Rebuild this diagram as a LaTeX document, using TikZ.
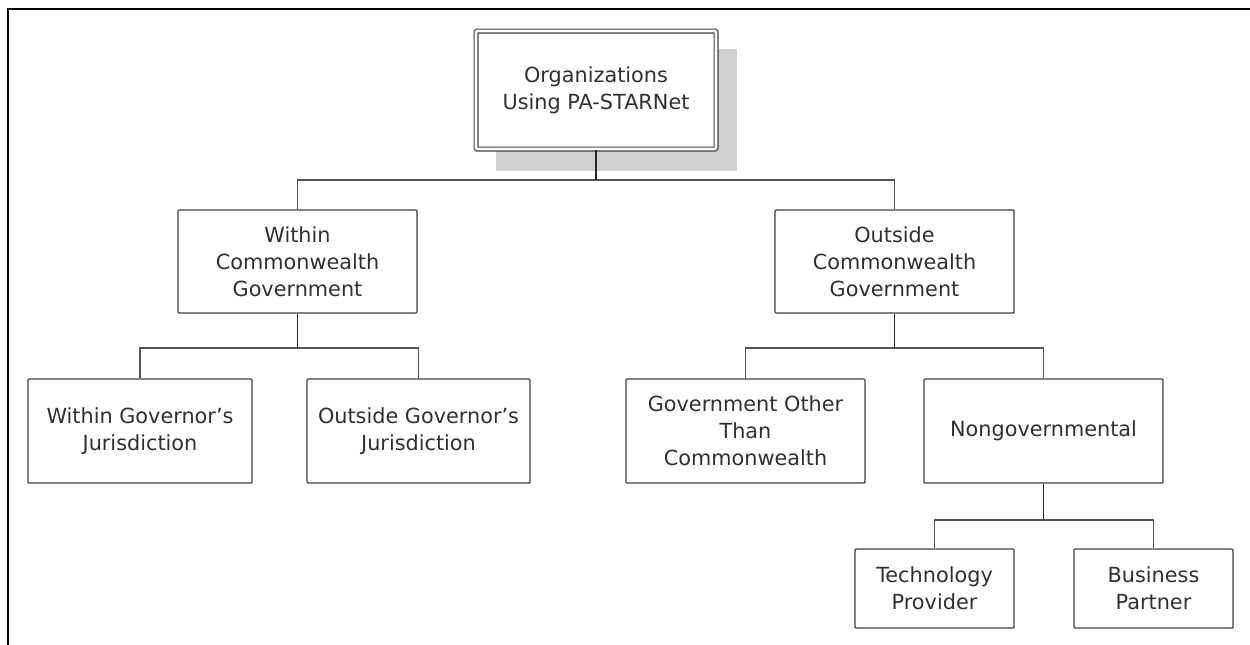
\documentclass[tikz,border=0pt]{standalone}
\usepackage{fontspec}
\setmainfont{DejaVu Sans}
\definecolor{boxline}{HTML}{404040}
\definecolor{conline}{HTML}{555555}
\definecolor{txt}{HTML}{303030}
\definecolor{shadowgray}{HTML}{D0D0D0}
\begin{document}
\begin{tikzpicture}[x=1pt,y=-1pt,
  orgbox/.style={draw=boxline, line width=1.4pt, rectangle, rounded corners=1pt, fill=white,
    align=center, text=txt, inner sep=0pt,
    font=\fontsize{20.8}{27}\selectfont},
  conn/.style={draw=conline, line width=1.3pt},
  stem/.style={draw=black!85, line width=1.8pt},
  frameline/.style={draw=black, line width=2.6pt}
  ]
\useasboundingbox (0,0) rectangle (1250,645);
% frame
\coordinate (ftl) at (8,9);
\coordinate (ftr) at (1250,9);
\coordinate (fbl) at (8,645);
\draw[frameline] (ftr) -- (ftl) -- (fbl);
% shadow of top box
\fill[shadowgray] (496,49) rectangle (737,171);
% nodes
\node[orgbox, minimum width=240pt, minimum height=118pt, double=white, double distance=2.6pt, line width=1.2pt] (top) at (596,90) {Organizations\\Using PA-STARNet};
\node[orgbox, minimum width=239pt, minimum height=103pt] (wcg) at (297.5,261.5) {Within\\Commonwealth\\Government};
\node[orgbox, minimum width=239pt, minimum height=103pt] (ocg) at (894.5,261.5) {Outside\\Commonwealth\\Government};
\node[orgbox, minimum width=224pt, minimum height=104pt] (wgj) at (140,431) {Within Governor’s\\Jurisdiction};
\node[orgbox, minimum width=223pt, minimum height=104pt] (ogj) at (418.5,431) {Outside Governor’s\\Jurisdiction};
\node[orgbox, minimum width=239pt, minimum height=104pt] (gotc) at (745.5,431) {Government Other\\Than\\Commonwealth};
\node[orgbox, minimum width=239pt, minimum height=104pt] (ng) at (1043.5,431) {Nongovernmental};
\node[orgbox, minimum width=159pt, minimum height=79pt] (tp) at (934.5,588.5) {Technology\\Provider};
\node[orgbox, minimum width=159pt, minimum height=79pt] (bp) at (1153.5,588.5) {Business\\Partner};
% junctions
\coordinate (j1) at (596,180);
\coordinate (j2) at (297.5,348);
\coordinate (j3) at (894.5,348);
\coordinate (j4) at (1043.5,520);
% connectors
\draw[conn] (wcg.north) |- (j1) -| (ocg.north);
\draw[conn] (wgj.north) |- (j2) -| (ogj.north);
\draw[conn] (gotc.north) |- (j3) -| (ng.north);
\draw[conn] (tp.north) |- (j4) -| (bp.north);
\draw[stem] (top.south) -- (j1);
\draw[stem] (wcg.south) -- (j2);
\draw[stem] (ocg.south) -- (j3);
\draw[stem] (ng.south) -- (j4);
\end{tikzpicture}
\end{document}
